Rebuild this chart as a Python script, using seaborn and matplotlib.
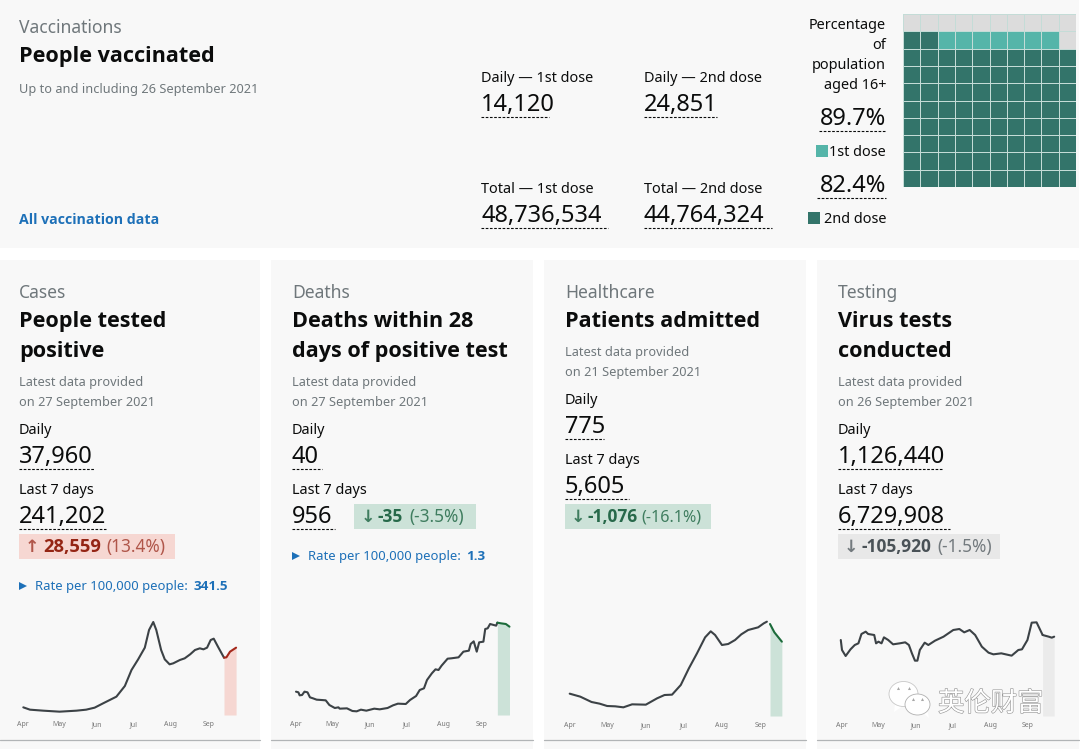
# UK coronavirus dashboard summary page, rebuilt with seaborn
import matplotlib
matplotlib.use('Agg')
import matplotlib.pyplot as plt
import matplotlib.patheffects as pe
from matplotlib.colors import ListedColormap
from matplotlib.patches import Rectangle, Ellipse, Polygon
import numpy as np
import pandas as pd
import seaborn as sns

# -- data ------------------------------------------------------
# y values are sparkline heights (no axis in the original)
cases_days = [0, 5.5, 16.5, 30, 44, 52, 59, 66, 77, 84, 89.5, 95, 100.5, 104, 107.5, 110, 114, 117, 121, 124,
              129.5, 133.5, 138, 142, 146, 149, 152, 155, 157.5, 161, 166, 168, 171, 176]
cases_vals = [23, 16, 13, 10, 13, 16, 22, 35, 55, 87, 135, 167, 202, 255, 279, 255, 195, 167, 152, 155,
              165, 170, 182, 195, 200, 197, 202, 225, 229, 205, 172, 173, 190, 202]

deaths_days = [0, 2, 3, 5, 7, 9.5, 11.5, 14, 17, 21, 24.5, 27.5, 32, 35, 36, 42, 46.5, 50, 53.5, 58,
               64.5, 69, 75.5, 80, 84, 90.5, 94, 99, 102, 105.5, 108, 112, 115, 117.5, 120, 125, 128, 134,
               138, 142.5, 144, 146.5, 149, 151, 154.5, 156, 158, 160, 165, 166, 169, 173, 176]
deaths_vals = [70, 68, 59, 60, 70, 68, 53, 50, 46, 45, 44, 30, 21, 23, 19, 20, 12, 11, 16, 13,
               19, 17, 21, 29, 34, 33, 45, 57, 75, 80, 105, 125, 137, 135, 148, 169, 170, 173,
               190, 193, 213, 221, 190, 218, 220, 258, 260, 273, 268, 277, 275, 273, 265]

health_days = [0, 8.5, 17.5, 24, 30, 36.5, 43, 50, 61, 70, 76, 82, 89, 95.5, 102, 108.5, 113, 116.5, 122, 127,
               132.5, 137.5, 143, 151, 155.5, 158, 160.5, 164, 170]
health_vals = [67, 58, 42, 37, 30, 29, 26, 35, 34, 53, 63, 64, 93, 143, 188, 236, 254, 243, 213, 216,
               228, 245, 258, 266, 278, 283, 276, 251, 223]

tests_days = [-1, 0, 3, 7, 10.5, 13.5, 16, 19.5, 21.5, 26.5, 28, 30, 32.5, 34.5, 38, 42, 47.5, 52, 55, 57.5,
              60, 62, 64, 68, 71, 76.5, 83.5, 91.5, 96.5, 100.5, 105, 109.5, 115, 120.5, 124.5, 131, 139.5,
              145, 148, 152.5, 156, 160, 165, 170, 172.5, 174.5]
tests_vals = [228, 198, 180, 200, 213, 218, 246, 253, 246, 243, 218, 223, 218, 236, 228, 215, 218, 221, 213, 188,
              166, 166, 198, 220, 213, 226, 238, 258, 261, 251, 258, 243, 208, 190, 185, 188, 181,
              198, 200, 228, 280, 281, 243, 238, 235, 238]

month_days = [0, 30, 61, 91, 122, 153]
month_labels = ['Apr', 'May', 'Jun', 'Jul', 'Aug', 'Sep']

# 0 = rest of population, 1 = first dose only, 2 = second dose
waffle_rows = [[0, 0, 0, 0, 0, 0, 0, 0, 0, 0],
               [2, 2, 1, 1, 1, 1, 1, 1, 1, 0],
               [2, 2, 2, 2, 2, 2, 2, 2, 2, 2],
               [2, 2, 2, 2, 2, 2, 2, 2, 2, 2],
               [2, 2, 2, 2, 2, 2, 2, 2, 2, 2],
               [2, 2, 2, 2, 2, 2, 2, 2, 2, 2],
               [2, 2, 2, 2, 2, 2, 2, 2, 2, 2],
               [2, 2, 2, 2, 2, 2, 2, 2, 2, 2],
               [2, 2, 2, 2, 2, 2, 2, 2, 2, 2],
               [2, 2, 2, 2, 2, 2, 2, 2, 2, 2]]

# -- style -----------------------------------------------------
sns.set_theme(style='white')
plt.rcParams['font.family'] = ['Noto Sans', 'DejaVu Sans']
BOLD = ['Open Sans', 'DejaVu Sans']

INK = '#0b0c0c'
GREY = '#505a5f'
KICK = '#6f777b'
BLUE = '#1d70b8'
CARD = '#f8f8f8'
DARK = '#33746a'
TEAL = '#55b5a9'
LINE = '#3c4246'

fig = plt.figure(figsize=(10.8, 7.49), dpi=100, facecolor='white')

# page layer in pixel coordinates, y going down like the screenshot
page = fig.add_axes([0, 0, 1, 1])
page.set_xlim(0, 1080)
page.set_ylim(749, 0)
page.axis('off')


def label(x, y, s, size=10.4, color=INK, weight='normal', ha='left', **kw):
    if weight == 'bold':
        kw['family'] = BOLD
    page.text(x, y, s, fontsize=size, color=color, fontweight=weight, ha=ha, va='baseline', **kw)


def number(x, y, s, width, ha='left'):
    label(x, y, s, size=17, ha=ha)
    x0 = x if ha == 'left' else x - width
    page.plot([x0, x0 + width], [y + 6, y + 6], color=INK, lw=0.8, ls=(0, (2.4, 1.4)))


def card_head(x, kicker, title, latest, y_latest):
    label(x, 298, kicker, size=12.6, color=KICK)
    for i, line in enumerate(title):
        label(x, 327 + i * 30, line, size=15.6, weight='bold')
    label(x, y_latest, 'Latest data provided', size=9.2, color=KICK)
    label(x, y_latest + 20, latest, size=9.2, color=KICK)


def delta(box, y, arrow, arrow_x, value, value_x, pct, pct_x, back, col, col2, v_size=12.5, p_size=12.4):
    page.add_patch(Rectangle((box[0], y - 18), box[1] - box[0], 25, fc=back, ec='none'))
    label(arrow_x, y, arrow, size=12.5, color=col2, weight='bold', ha='center')
    label(value_x, y, value, size=v_size, color=col, weight='bold')
    label(pct_x, y, pct, size=p_size, color=col2)


def rate(x, y, val):
    page.plot([x + 4], [y - 4], marker='>', ms=5.5, color=BLUE, mew=0)
    label(x + 16, y, 'Rate per 100,000 people:', size=9.4, color=BLUE)
    label(x + 174, y, val, size=9.7, color=BLUE, weight='bold')


def spark(apr_px, per_day, base_px, days, vals, cut, hi_col, band_col):
    # one sparkline, y values are in thirds of a pixel
    left, right = apr_px - 3 * per_day, apr_px + 180 * per_day
    ax = fig.add_axes([left / 1080, 1 - base_px / 749, (right - left) / 1080, 100 / 749])
    ax.patch.set_alpha(0)
    df = pd.DataFrame({'day': days, 'val': vals})
    hi = df[df['day'] >= cut]
    ax.fill_between(hi['day'], 0, hi['val'], color=band_col, lw=0)
    sns.lineplot(data=df[df['day'] <= cut], x='day', y='val', color=LINE, lw=1.5, estimator=None, ax=ax)
    sns.lineplot(data=hi, x='day', y='val', color=hi_col, lw=1.5, estimator=None, ax=ax)
    ax.set_xlim(-3, 180)
    ax.set_ylim(0, 300)
    ax.set_xticks(month_days, month_labels)
    ax.set_yticks([])
    ax.set_xlabel('')
    ax.set_ylabel('')
    ax.tick_params(axis='x', length=2, width=0.5, color='#cccccc', labelsize=5, labelcolor='#777777', pad=2.5)
    sns.despine(ax=ax, left=True, bottom=True)


# -- cards -----------------------------------------------------
page.add_patch(Rectangle((0, 0), 1079, 248, fc=CARD, ec='none'))
for x0, x1 in [(0, 260), (271, 533), (544, 806), (817, 1079)]:
    page.add_patch(Rectangle((x0, 260), x1 - x0, 489, fc=CARD, ec='none'))
    page.plot([x0, x1], [739.5, 739.5], color='#b1b4b6', lw=0.9)

# -- vaccination card ------------------------------------------
label(19, 33, 'Vaccinations', size=12.6, color=KICK)
label(19, 62, 'People vaccinated', size=15.6, weight='bold')
label(19, 93, 'Up to and including 26 September 2021', size=9.2, color=KICK)
label(19, 224, 'All vaccination data', size=10.2, color=BLUE, weight='bold')

label(481, 82, 'Daily — 1st dose')
number(481, 111, '14,120', 68)
label(644, 82, 'Daily — 2nd dose')
number(644, 111, '24,851', 73)
label(481, 193, 'Total — 1st dose')
number(481, 222, '48,736,534', 127)
label(644, 193, 'Total — 2nd dose')
number(644, 222, '44,764,324', 128)

for y, s in zip([29, 49, 69, 89], ['Percentage', 'of', 'population', 'aged 16+']):
    label(886, y, s, ha='right')
number(886, 125, '89.7%', 67, ha='right')
page.add_patch(Rectangle((816, 145), 12, 12, fc=TEAL, ec='none'))
label(886, 156, '1st dose', ha='right')
number(886, 192, '82.4%', 69, ha='right')
page.add_patch(Rectangle((808, 212), 12, 12, fc=DARK, ec='none'))
label(886, 223, '2nd dose', ha='right')

ax_waffle = fig.add_axes([903 / 1080, 1 - 187 / 749, 173 / 1080, 173 / 749])
sns.heatmap(np.array(waffle_rows), cmap=ListedColormap(['#dcdcdc', TEAL, DARK]), vmin=0, vmax=2, cbar=False,
            linewidths=0.5, linecolor='#c4dcd7', square=False, xticklabels=False, yticklabels=False, ax=ax_waffle)

# -- cases -----------------------------------------------------
card_head(19, 'Cases', ['People tested', 'positive'], 'on 27 September 2021', 386)
label(19, 434, 'Daily')
number(19, 463, '37,960', 75)
label(19, 494, 'Last 7 days')
number(19, 523, '241,202', 87)
delta((19, 175), 552, '↑', 32, '28,559', 43, '(13.4%)', 106, '#f6d7d2', '#942514', '#b0564a', v_size=13.2)
rate(19, 590, '341.5')
spark(23.3, 1.209, 715, cases_days, cases_vals, 166, '#a5281b', '#f6d7d2')

# -- deaths ----------------------------------------------------
card_head(292, 'Deaths', ['Deaths within 28', 'days of positive test'], 'on 27 September 2021', 386)
label(292, 434, 'Daily')
number(292, 463, '40', 30)
label(292, 494, 'Last 7 days')
number(292, 523, '956', 43)
delta((354, 476), 522, '↓', 368, '-35', 378, '(-3.5%)', 409, '#cce2d8', '#27694a', '#3f7d5f')
rate(292, 560, '1.3')
spark(296, 1.213, 715, deaths_days, deaths_vals, 166, '#1b6b3a', '#cce2d8')

# -- healthcare ------------------------------------------------
card_head(565, 'Healthcare', ['Patients admitted'], 'on 21 September 2021', 356)
label(565, 404, 'Daily')
number(565, 433, '775', 39)
label(565, 464, 'Last 7 days')
number(565, 493, '5,605', 64)
delta((565, 711), 522, '↓', 578, '-1,076', 588, '(-16.1%)', 641, '#cce2d8', '#27694a', '#3f7d5f', p_size=11.6)
spark(569.7, 1.248, 716, health_days, health_vals, 160, '#1b6b3a', '#cce2d8')

# -- testing ---------------------------------------------------
card_head(838, 'Testing', ['Virus tests', 'conducted'], 'on 26 September 2021', 386)
label(838, 434, 'Daily')
number(838, 463, '1,126,440', 104)
label(838, 494, 'Last 7 days')
number(838, 523, '6,729,908', 112)
delta((838, 1000), 552, '↓', 851, '-105,920', 861, '(-1.5%)', 937, '#e8e8e8', '#4a5257', '#737a7e')
spark(842, 1.216, 716, tests_days, tests_vals, 165, LINE, '#ebebeb')

# -- watermark -------------------------------------------------
wm = fig.add_axes([0, 0, 1, 1], zorder=5)
wm.set_xlim(0, 1080)
wm.set_ylim(749, 0)
wm.axis('off')
wm.patch.set_alpha(0)
wm.add_patch(Polygon([[895, 704], [894, 712], [903, 706]], fc='white', ec='none'))
wm.add_patch(Ellipse((903.5, 694), 29, 25, fc='white', ec='#c8c8c8', lw=0.6))
wm.add_patch(Polygon([[923, 713], [929, 718], [927, 709]], fc='white', ec='none'))
wm.add_patch(Ellipse((917.5, 704.5), 25, 21, fc='white', ec='#b0b0b0', lw=0.6))
wm.plot([898, 909, 913, 922], [688, 688, 699, 699], ls='none', marker='^', ms=2.2, color='#a8a8a8', mew=0)
wm.text(938, 711, '英伦财富', fontsize=19, color='white', family=['Noto Sans CJK SC', 'DejaVu Sans'],
        path_effects=[pe.withStroke(linewidth=0.9, foreground='#9a9a9a')])

fig.savefig('out.png', dpi=100)
